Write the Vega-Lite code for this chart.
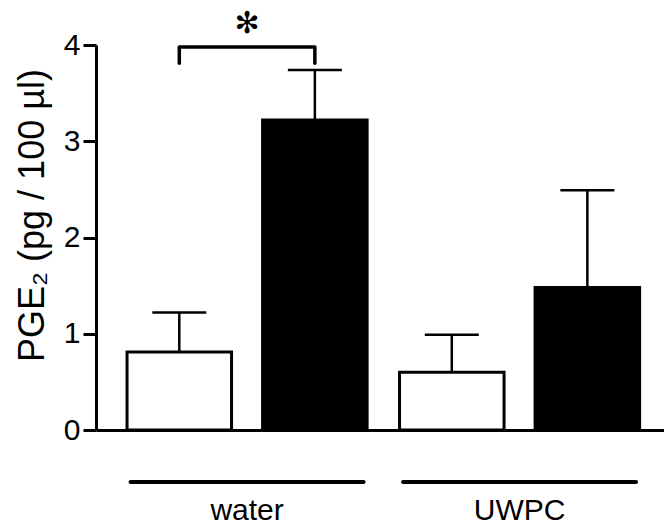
{
  "$schema": "https://vega.github.io/schema/vega-lite/v6.json",
  "width": 568,
  "height": 385,
  "autosize": {"type": "none"},
  "padding": {"left": 96, "top": 45, "right": 0, "bottom": 95},
  "background": "white",
  "config": {
    "view": {"stroke": null},
    "font": "Liberation Sans"
  },
  "datasets": {
    "pge2": [
      {"group": "water", "condition": "control", "value": 0.81, "upper": 1.22},
      {"group": "water", "condition": "treated", "value": 3.22, "upper": 3.74},
      {"group": "UWPC", "condition": "control", "value": 0.6, "upper": 0.99},
      {"group": "UWPC", "condition": "treated", "value": 1.48, "upper": 2.49}
    ],
    "groups": [
      {"group": "water"},
      {"group": "UWPC"}
    ],
    "bracketEnds": [
      {"group": "water", "condition": "control", "top": 3.98, "bottom": 3.81},
      {"group": "water", "condition": "treated", "top": 3.98, "bottom": 3.81}
    ],
    "bracketTop": [
      {"group": "water", "top": 3.98, "label": "✻"}
    ]
  },
  "encoding": {
    "x": {
      "field": "group",
      "type": "nominal",
      "sort": null,
      "scale": {"domain": ["water", "UWPC"], "paddingInner": 0.119, "paddingOuter": 0.1017, "align": 0.56},
      "axis": {
        "title": null,
        "labels": false,
        "ticks": false,
        "domainColor": "black",
        "domainWidth": 3
      }
    }
  },
  "layer": [
    {
      "data": {"name": "pge2"},
      "mark": {"type": "rule", "color": "black", "strokeWidth": 2.5, "opacity": 1},
      "encoding": {
        "xOffset": {"field": "condition", "type": "nominal", "sort": null, "scale": {"domain": ["control", "treated"], "paddingInner": 0.229, "paddingOuter": 0}},
        "y": {"field": "value", "type": "quantitative"},
        "y2": {"field": "upper"}
      }
    },
    {
      "data": {"name": "pge2"},
      "mark": {"type": "bar", "stroke": "black", "strokeWidth": 3, "opacity": 1},
      "encoding": {
        "xOffset": {"field": "condition", "type": "nominal", "sort": null, "scale": {"domain": ["control", "treated"], "paddingInner": 0.229, "paddingOuter": 0}},
        "y": {
          "field": "value",
          "type": "quantitative",
          "title": "PGE₂ (pg / 100 µl)",
          "scale": {"domain": [0, 4], "nice": false, "zero": true},
          "axis": {
            "values": [0, 1, 2, 3, 4],
            "format": "d",
            "grid": false,
            "domainColor": "black",
            "domainWidth": 3,
            "tickColor": "black",
            "tickWidth": 3,
            "tickSize": 13,
            "labelFontSize": 30,
            "labelColor": "black",
            "labelPadding": 3,
            "labelFont": "Liberation Sans",
            "titleFont": "Liberation Sans",
            "titleFontSize": 36,
            "titleFontWeight": "normal",
            "titleColor": "black",
            "titleAngle": -90,
            "titleAlign": "center",
            "titleBaseline": "alphabetic",
            "titleX": -53,
            "titleY": 170
          }
        },
        "fill": {
          "field": "condition",
          "type": "nominal",
          "scale": {"domain": ["control", "treated"], "range": ["white", "black"]},
          "legend": null
        }
      }
    },
    {
      "data": {"name": "pge2"},
      "mark": {"type": "tick", "color": "black", "opacity": 1, "size": 54, "thickness": 2.5, "orient": "horizontal"},
      "encoding": {
        "xOffset": {"field": "condition", "type": "nominal", "sort": null, "scale": {"domain": ["control", "treated"], "paddingInner": 0.229, "paddingOuter": 0}},
        "y": {"field": "upper", "type": "quantitative"}
      }
    },
    {
      "data": {"name": "groups"},
      "mark": {"type": "tick", "color": "black", "opacity": 1, "size": 237, "thickness": 4, "cornerRadius": 2, "orient": "horizontal", "yOffset": 52},
      "encoding": {
        "y": {"datum": 0, "type": "quantitative"}
      }
    },
    {
      "data": {"name": "groups"},
      "mark": {"type": "text", "fontSize": 30, "font": "Liberation Sans", "color": "black", "baseline": "alphabetic", "align": "center", "yOffset": 90},
      "encoding": {
        "y": {"datum": 0, "type": "quantitative"},
        "text": {"field": "group"}
      }
    },
    {
      "data": {"name": "bracketEnds"},
      "mark": {"type": "rule", "color": "black", "opacity": 1, "strokeWidth": 3.5, "strokeCap": "round"},
      "encoding": {
        "xOffset": {"field": "condition", "type": "nominal", "sort": null, "scale": {"domain": ["control", "treated"], "paddingInner": 0.229, "paddingOuter": 0}},
        "y": {"field": "bottom", "type": "quantitative"},
        "y2": {"field": "top"}
      }
    },
    {
      "data": {"name": "bracketTop"},
      "mark": {"type": "tick", "color": "black", "opacity": 1, "size": 135, "thickness": 3.5, "orient": "horizontal"},
      "encoding": {
        "y": {"field": "top", "type": "quantitative"}
      }
    },
    {
      "data": {"name": "bracketTop"},
      "mark": {"type": "text", "fontSize": 30, "font": "DejaVu Sans", "color": "black", "baseline": "alphabetic", "align": "center", "dy": -14},
      "encoding": {
        "y": {"field": "top", "type": "quantitative"},
        "text": {"field": "label"}
      }
    }
  ]
}
